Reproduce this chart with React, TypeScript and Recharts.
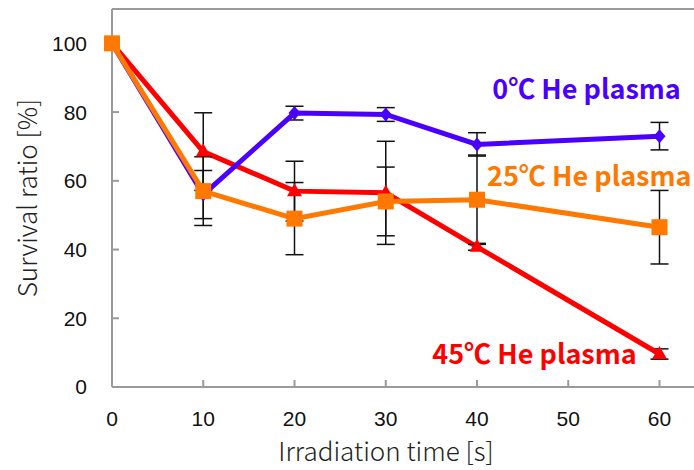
import {
  LineChart,
  Line,
  XAxis,
  YAxis,
  ErrorBar,
  ReferenceLine,
  ReferenceDot,
} from "recharts";

const times = [0, 10, 20, 30, 40, 60];
const blue0 = [100, 56, 79.7, 79.3, 70.6, 73];
const blue0Err = [0, 7, 2, 2, 3.4, 4];
const orange25 = [100, 57, 49, 54, 54.5, 46.5];
const orange25Err = [0, 10, 10.5, 10, 13, 10.7];
const red45 = [100, 68.5, 57, 56.5, 40.8, 9.6];
const red45Err = [0, 11.3, 8.7, 15, 1, 1.5];

const xTicks = [0, 10, 20, 30, 40, 50, 60];
const yTicks = [0, 20, 40, 60, 80, 100];

const blue = "#4a00ff";
const orange = "#ff7800";
const red = "#ff0000";
const axisGray = "#9a9a9a";
const font = '"Noto Sans CJK JP", "Noto Sans", sans-serif';
const tickFont = '"Liberation Sans", Arial, sans-serif';

const data = times.map((t, i) => ({
  time: t,
  blue: blue0[i],
  blueErr: blue0Err[i],
  orange: orange25[i],
  orangeErr: orange25Err[i],
  red: red45[i],
  redErr: red45Err[i],
}));

const Diamond = (props: any) => {
  const { cx, cy, index } = props;
  return (
    <polygon
      key={"d" + index}
      points={`${cx},${cy - 7} ${cx + 6},${cy} ${cx},${cy + 7} ${cx - 6},${cy}`}
      fill={blue}
    />
  );
};

const Triangle = (props: any) => {
  const { cx, cy, index } = props;
  return (
    <polygon
      key={"t" + index}
      points={`${cx},${cy - 8} ${cx + 7.5},${cy + 5} ${cx - 7.5},${cy + 5}`}
      fill={red}
    />
  );
};

const Square = (props: any) => {
  const { cx, cy, index } = props;
  return <rect key={"s" + index} x={cx - 8} y={cy - 8} width={16} height={16} fill={orange} />;
};

const seriesLabel = (text: string, color: string) => (props: any) => {
  const { viewBox } = props;
  const x = viewBox.x + (viewBox.width || 0) / 2;
  const y = viewBox.y + (viewBox.height || 0) / 2;
  return (
    <text
      x={x}
      y={y}
      dy={10}
      textAnchor="middle"
      fill={color}
      fontSize={27}
      fontWeight="bold"
      fontFamily={font}
    >
      {text}
    </text>
  );
};

export default function App() {
  return (
    <div
      style={{
        position: "absolute",
        left: 0,
        top: 0,
        width: 694,
        height: 470,
        overflow: "hidden",
        background: "#fff",
      }}
    >
      <LineChart
        width={700}
        height={470}
        data={data}
        margin={{ top: 9, right: 4, left: 0, bottom: 0 }}
        style={{ fontFamily: font }}
      >
        <XAxis
          dataKey="time"
          type="number"
          domain={[0, 64]}
          ticks={xTicks}
          height={83}
          stroke={axisGray}
          strokeWidth={2}
          tickSize={-7}
          tickMargin={31}
          tick={{ fill: "#111", fontSize: 21, fontFamily: tickFont }}
          label={{
            value: "Irradiation time [s]",
            position: "insideBottom",
            offset: 9,
            dx: -18,
            fill: "#222",
            fontSize: 26,
            fontWeight: 300,
          }}
        />
        <YAxis
          type="number"
          domain={[0, 110]}
          ticks={yTicks}
          width={112}
          stroke={axisGray}
          strokeWidth={2}
          tickSize={-7}
          tickMargin={32}
          tick={{ fill: "#111", fontSize: 21, fontFamily: tickFont }}
          label={{
            value: "Survival ratio [%]",
            angle: -90,
            position: "center",
            dx: -28,
            fill: "#222",
            fontSize: 26,
            fontWeight: 300,
          }}
        />
        <ReferenceLine y={110} stroke={axisGray} strokeWidth={2} />
        <Line
          dataKey="red"
          stroke={red}
          strokeWidth={5}
          dot={Triangle}
          activeDot={false}
          isAnimationActive={false}
        >
          <ErrorBar dataKey="redErr" width={9} stroke="#111" strokeWidth={1.5} isAnimationActive={false} />
        </Line>
        <Line
          dataKey="blue"
          stroke={blue}
          strokeWidth={5}
          dot={Diamond}
          activeDot={false}
          isAnimationActive={false}
        >
          <ErrorBar dataKey="blueErr" width={9} stroke="#111" strokeWidth={1.5} isAnimationActive={false} />
        </Line>
        <Line
          dataKey="orange"
          stroke={orange}
          strokeWidth={5}
          dot={Square}
          activeDot={false}
          isAnimationActive={false}
        >
          <ErrorBar dataKey="orangeErr" width={9} stroke="#111" strokeWidth={1.5} isAnimationActive={false} />
        </Line>
        <ReferenceDot x={52} y={86.6} r={0} label={seriesLabel("0℃ He plasma", blue)} />
        <ReferenceDot x={52.3} y={61.5} r={0} label={seriesLabel("25℃ He plasma", orange)} />
        <ReferenceDot x={46.3} y={9.6} r={0} label={seriesLabel("45℃ He plasma", red)} />
      </LineChart>
    </div>
  );
}
